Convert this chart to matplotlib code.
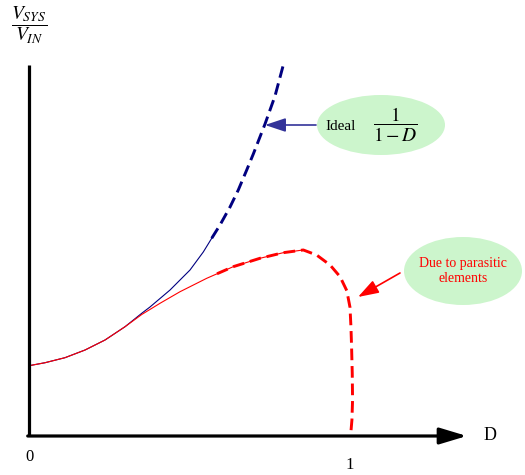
import matplotlib
matplotlib.use("Agg")
import matplotlib.pyplot as plt
from matplotlib.patches import Ellipse

plt.rcParams['mathtext.fontset'] = 'stix'
plt.rcParams['font.family'] = ['Liberation Serif', 'DejaVu Serif']

# Ideal curve (blue): D vs Vsys/Vin
ideal_solid_d = [0.0, 0.0498, 0.1121, 0.1745, 0.2368, 0.2991, 0.3511, 0.3769, 0.4393,
                 0.5016, 0.5430, 0.5692]
ideal_solid_v = [0.990, 1.032, 1.103, 1.211, 1.352, 1.539, 1.728, 1.817, 2.056,
                 2.338, 2.592, 2.785]
ideal_dash_d = [0.5692, 0.5950, 0.6262, 0.6520, 0.6782, 0.6988, 0.7352, 0.7664, 0.7922]
ideal_dash_v = [2.785, 2.972, 3.225, 3.465, 3.746, 3.972, 4.394, 4.789, 5.225]

# Real curve (red) with parasitic elements
real_solid_d = [0.0, 0.0498, 0.1121, 0.1745, 0.2368, 0.2991, 0.3511, 0.4081, 0.4704,
                0.5536, 0.6364, 0.7196, 0.7922, 0.8545]
real_solid_v = [0.990, 1.032, 1.103, 1.211, 1.352, 1.539, 1.711, 1.869, 2.032,
                2.221, 2.385, 2.503, 2.582, 2.620]
real_dash_d = [0.5857, 0.6364, 0.7196, 0.7922, 0.8545, 0.896, 0.938, 0.969, 0.990, 1.000,
               1.003, 1.005, 1.007, 1.008, 1.006, 1.002]
real_dash_v = [2.285, 2.385, 2.503, 2.582, 2.620, 2.549, 2.408, 2.244, 2.047, 1.812,
               1.530, 1.244, 0.883, 0.507, 0.225, 0.014]

x_ticks = [0, 1]
x_tick_labels = ["0", "1"]

fig = plt.figure(figsize=(5.25, 4.75), dpi=100)
ax = fig.add_axes([0, 0, 1, 1])
ax.set_xlim(-29 / 321, 496 / 321)
ax.set_ylim(-39 / 71, 436 / 71)
ax.axis('off')

blue = '#000080'
red = '#FF0000'

# axes
ax.plot([0, 0], [0, 5.225], color='black', lw=2.3, solid_capstyle='butt', zorder=5)
ax.annotate('', xy=(1.364, 0), xytext=(-0.004, 0),
            arrowprops=dict(arrowstyle='-|>,head_length=0.83,head_width=0.25',
                            mutation_scale=20, lw=2.3, color='black',
                            shrinkA=0, shrinkB=0), zorder=5)
ax.text(1.436, 0.0, 'D', fontsize=13, ha='center', va='center')
ax.text(x_ticks[0], -0.296, x_tick_labels[0], fontsize=12, ha='center', va='center')
ax.text(x_ticks[1], -0.408, x_tick_labels[1], fontsize=12, ha='center', va='center')
ax.text(0.0, 5.79, r'$\dfrac{V_{SYS}}{V_{IN}}$', fontsize=14, ha='center', va='center')

# curves
ax.plot(ideal_solid_d, ideal_solid_v, color=blue, lw=0.8, zorder=3)
ax.plot(ideal_dash_d, ideal_dash_v, color=blue, lw=2.1, dashes=(4, 2), zorder=3)
ax.plot(real_solid_d, real_solid_v, color=red, lw=0.8, zorder=4)
ax.plot(real_dash_d, real_dash_v, color=red, lw=2.1, dashes=(4, 2), zorder=4)

# Ideal callout
ax.add_patch(Ellipse(((381 - 29) / 321, (436 - 125) / 71), 128 / 321, 60 / 71,
                     facecolor='#CCF5CC', edgecolor='none', zorder=1))
ax.text((341 - 29) / 321, (436 - 126) / 71, 'Ideal', fontsize=11, ha='center', va='center')
ax.text((395 - 29) / 321, (436 - 125) / 71, r'$\dfrac{1}{1-D}$', fontsize=14,
        ha='center', va='center')
ax.annotate('', xy=((265 - 29) / 321, (436 - 125) / 71),
            xytext=((316 - 29) / 321, (436 - 125) / 71),
            arrowprops=dict(arrowstyle='-|>,head_length=0.9,head_width=0.3',
                            mutation_scale=14, lw=1.2, color='#333399',
                            shrinkA=0, shrinkB=0), zorder=6)

# Parasitic callout
ax.add_patch(Ellipse(((463 - 29) / 321, (436 - 271) / 71), 118 / 321, 68 / 71,
                     facecolor='#CCF5CC', edgecolor='none', zorder=1))
ax.text((463 - 29) / 321, (436 - 271) / 71, 'Due to parasitic\nelements', fontsize=10,
        color=red, ha='center', va='center', linespacing=1.2)
ax.annotate('', xy=((358 - 29) / 321, (436 - 297) / 71),
            xytext=((400 - 29) / 321, (436 - 273) / 71),
            arrowprops=dict(arrowstyle='-|>,head_length=0.9,head_width=0.3',
                            mutation_scale=14, lw=1.2, color=red,
                            shrinkA=0, shrinkB=0), zorder=6)

fig.savefig('out.png', dpi=100)
